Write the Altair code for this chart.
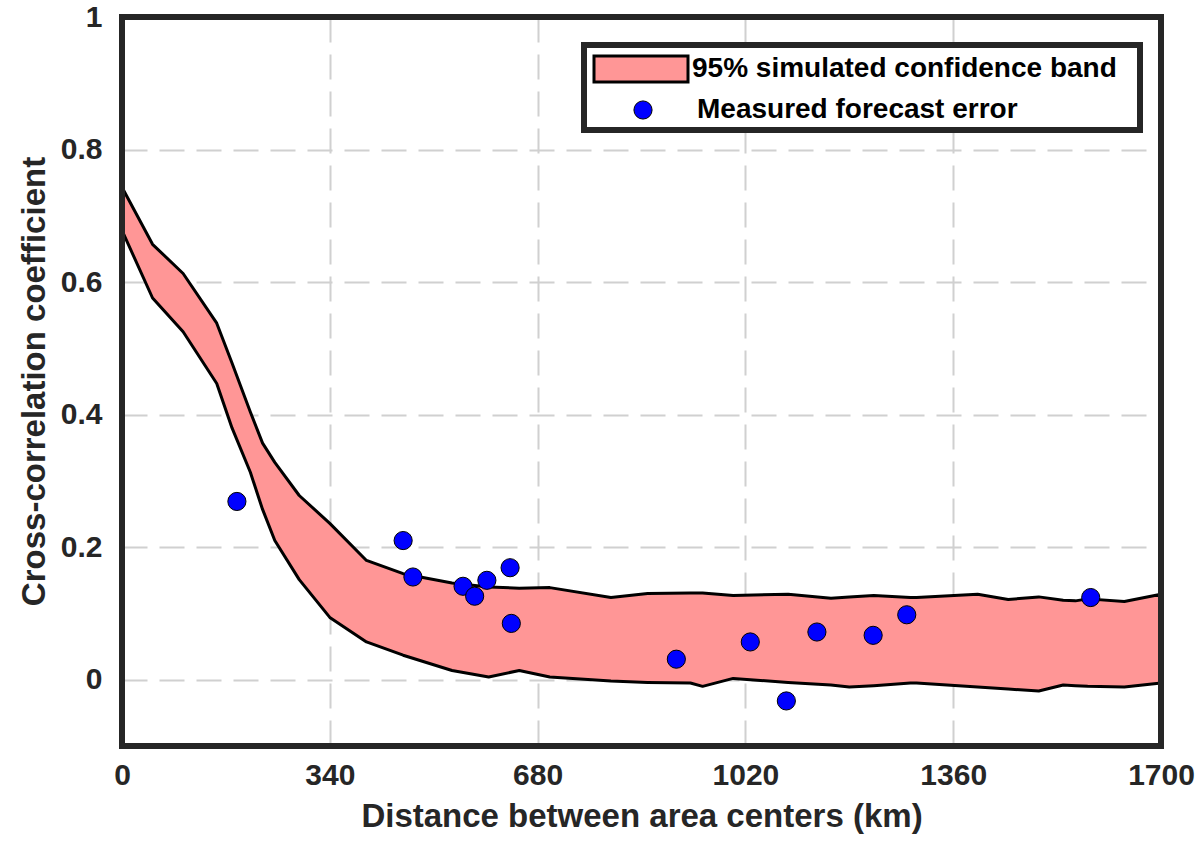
import altair as alt
import pandas as pd

# Band boundaries
band_x = [0, 50, 100, 155, 180, 210, 230, 250, 290, 340, 400, 460, 540, 600, 650,
          700, 800, 860, 930, 950, 1000, 1090, 1160, 1190, 1230, 1290, 1300, 1400,
          1450, 1500, 1540, 1560, 1580, 1640, 1700]
band_hi = [0.743, 0.657, 0.613, 0.538, 0.478, 0.404, 0.357, 0.328, 0.278, 0.236,
           0.180, 0.160, 0.146, 0.140, 0.138, 0.139, 0.124, 0.130, 0.131, 0.131,
           0.127, 0.129, 0.123, 0.125, 0.127, 0.124, 0.124, 0.129, 0.121, 0.125,
           0.120, 0.119, 0.122, 0.118, 0.129]
band_lo = [0.678, 0.576, 0.525, 0.447, 0.380, 0.313, 0.257, 0.210, 0.151, 0.094,
           0.057, 0.037, 0.014, 0.004, 0.014, 0.004, -0.002, -0.004, -0.005, -0.010,
           0.002, -0.004, -0.008, -0.011, -0.009, -0.005, -0.005, -0.011, -0.014,
           -0.017, -0.008, -0.009, -0.010, -0.011, -0.005]

# Measured forecast error points
pt_x = [188, 460, 476, 558, 577, 597, 635, 637, 907, 1028, 1087, 1137, 1229, 1284, 1585]
pt_y = [0.269, 0.210, 0.155, 0.141, 0.126, 0.150, 0.169, 0.085, 0.031, 0.057,
        -0.032, 0.072, 0.067, 0.098, 0.124]

x_ticks = [0, 340, 680, 1020, 1360, 1700]
y_ticks = [0, 0.2, 0.4, 0.6, 0.8, 1]

legend_labels = ["95% simulated confidence band", "Measured forecast error"]

band_df = pd.DataFrame({"x": band_x, "hi": band_hi, "lo": band_lo})
pt_df = pd.DataFrame({"x": pt_x, "y": pt_y})

PINK = "#ff9696"
BLUE = "#0000ff"
DARK = "#262626"
FONT = "Liberation Sans"

xscale = alt.Scale(domain=[0, 1700], nice=False, zero=False)
yscale = alt.Scale(domain=[-0.1, 1], nice=False, zero=False)

xaxis = alt.Axis(values=x_ticks, title="Distance between area centers (km)",
                 grid=True, ticks=False, domain=False, labelPadding=14,
                 format="d",
                 titleY=70, titleBaseline="middle", labelFlush=False)
yaxis = alt.Axis(values=y_ticks, title="Cross-correlation coefficient",
                 grid=True, ticks=False, domain=False, labelPadding=20,
                 titleX=-88, titleY=364, titleAngle=270, titleBaseline="middle",
                 titleAlign="center",
                 labelExpr="datum.value == 0 ? '0' : datum.value == 1 ? '1' : format(datum.value, '.1f')")

band = alt.Chart(band_df).mark_area(
    fill=PINK, stroke="black", strokeWidth=3, interpolate="linear", opacity=1,
    strokeJoin="round"
).encode(
    x=alt.X("x:Q", scale=xscale, axis=xaxis),
    y=alt.Y("hi:Q", scale=yscale, axis=yaxis),
    y2="lo:Q",
)

points = alt.Chart(pt_df).mark_point(
    shape="circle", filled=True, fill=BLUE, stroke="black", strokeWidth=1,
    size=330, opacity=1
).encode(
    x=alt.X("x:Q", scale=xscale),
    y=alt.Y("y:Q", scale=yscale),
)

one = alt.Data(values=[{"a": 1}])

frame = alt.Chart(one).mark_rect(fill="transparent", stroke=DARK, strokeWidth=6).encode(
    x=alt.value(0), x2=alt.value(1039), y=alt.value(0), y2=alt.value(729)
)
leg_box = alt.Chart(one).mark_rect(fill="white", stroke=DARK, strokeWidth=6).encode(
    x=alt.value(462), x2=alt.value(1018), y=alt.value(28), y2=alt.value(113)
)
leg_swatch = alt.Chart(one).mark_rect(fill=PINK, stroke="black", strokeWidth=3).encode(
    x=alt.value(472), x2=alt.value(566), y=alt.value(39), y2=alt.value(65)
)
leg_dot = alt.Chart(one).mark_point(
    shape="circle", filled=True, fill=BLUE, stroke="black", strokeWidth=1,
    size=330, opacity=1
).encode(x=alt.value(521), y=alt.value(93))
leg_t1 = alt.Chart(one).mark_text(
    text=legend_labels[0], align="left", baseline="middle", font=FONT,
    fontSize=28, fontWeight="bold", color="black"
).encode(x=alt.value(570), y=alt.value(52))
leg_t2 = alt.Chart(one).mark_text(
    text=legend_labels[1], align="left", baseline="middle", font=FONT,
    fontSize=28, fontWeight="bold", color="black"
).encode(x=alt.value(575), y=alt.value(93))

chart = alt.layer(band, points, frame, leg_box, leg_swatch, leg_dot, leg_t1, leg_t2).properties(
    width=1039, height=729,
    autosize=alt.AutoSizeParams(type="none"),
    padding={"left": 122, "top": 17, "right": 40, "bottom": 101},
    background="white",
).configure_view(
    stroke=None
).configure_axis(
    labelFont=FONT, labelFontSize=30, labelFontWeight="bold", labelColor=DARK,
    titleFont=FONT, titleFontSize=33, titleFontWeight="bold", titleColor=DARK,
    gridColor="#d0d0d0", gridDash=[25, 12], gridWidth=2, gridOpacity=1,
)

chart.save("out.html", embed_options={"renderer": "svg", "actions": False})
